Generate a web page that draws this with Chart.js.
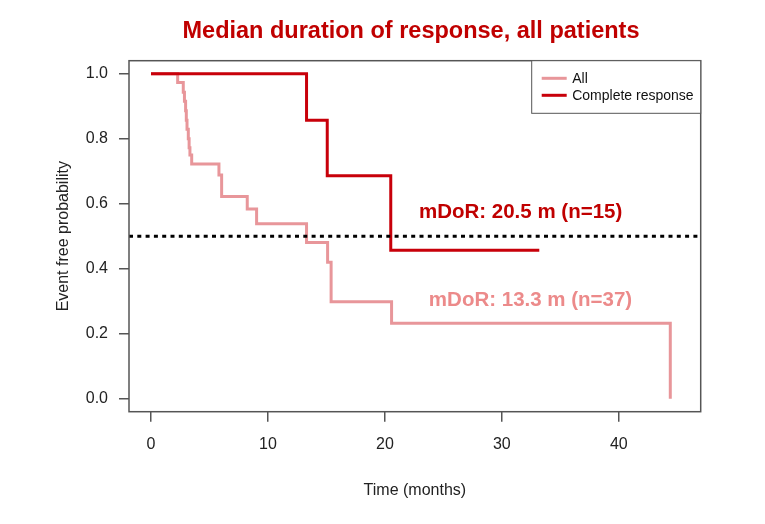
<!DOCTYPE html>
<html>
<head>
<meta charset="utf-8">
<script src="https://cdn.jsdelivr.net/npm/chart.js@4/dist/chart.umd.min.js"></script>
<style>
  body { margin: 0; background: #fff; }
  canvas { display: block; }
</style>
</head>
<body>
<canvas id="km" width="765" height="524"></canvas>
<script>
// Kaplan-Meier steps (time in months, event free probability)
const allTimes = [0, 2.28, 2.76, 2.86, 2.96, 3.02, 3.08, 3.19, 3.26, 3.33, 3.48, 5.81, 6.04, 8.23, 9.03, 13.3, 15.1, 15.4, 20.57, 44.4];
const allProb = [1, 0.973, 0.943, 0.915, 0.886, 0.857, 0.829, 0.8, 0.772, 0.75, 0.722, 0.688, 0.622, 0.584, 0.538, 0.481, 0.42, 0.298, 0.232, 0];
const crTimes = [0, 13.3, 15.07, 20.5, 33.2];
const crProb = [1, 0.857, 0.686, 0.457, 0.457];

const xTicks = [0, 10, 20, 30, 40];
const yTicks = [0, 0.2, 0.4, 0.6, 0.8, 1.0];
const xRange = [-1.88, 47.0];
const yRange = [-0.04, 1.04];
const medianLine = 0.5;

const seriesLabels = ['All', 'Complete response'];
const notes = [
  { text: 'mDoR: 20.5 m (n=15)', x: 31.6, y: 0.574, color: '#c00000' },
  { text: 'mDoR: 13.3 m (n=37)', x: 32.45, y: 0.304, color: '#ec8a8a' },
];
const titleText = 'Median duration of response, all patients';

const PINK = '#e8969a';
const RED = '#c8000a';
const FONT = "'Liberation Sans', Arial, Helvetica, sans-serif";

const toPoints = (xs, ys) => xs.map((x, i) => ({ x: x, y: ys[i] }));

const extras = {
  id: 'extras',
  afterDraw(chart) {
    const { ctx, chartArea: a, scales } = chart;
    ctx.save();
    // plot frame
    ctx.strokeStyle = '#555';
    ctx.lineWidth = 1.5;
    ctx.strokeRect(a.left, a.top, a.right - a.left, a.bottom - a.top);

    // title
    ctx.fillStyle = '#c00000';
    ctx.font = 'bold 23.5px ' + FONT;
    ctx.textAlign = 'center';
    ctx.textBaseline = 'middle';
    ctx.fillText(titleText, 411, 32);

    // median annotations
    ctx.font = 'bold 20.5px ' + FONT;
    notes.forEach(n => {
      ctx.fillStyle = n.color;
      ctx.fillText(n.text, scales.x.getPixelForValue(n.x), scales.y.getPixelForValue(n.y));
    });

    // legend box, top right inside the frame
    const bw = 169, bh = 52.6;
    const bx = a.right - bw, by = a.top;
    ctx.fillStyle = '#fff';
    ctx.fillRect(bx, by, bw, bh);
    ctx.strokeStyle = '#555';
    ctx.lineWidth = 1;
    ctx.strokeRect(bx, by, bw, bh);
    ctx.font = '14px ' + FONT;
    ctx.textAlign = 'left';
    chart.data.datasets.slice(0, 2).forEach((ds, i) => {
      const yy = by + 17.6 + i * 17;
      ctx.strokeStyle = ds.borderColor;
      ctx.lineWidth = 3;
      ctx.beginPath();
      ctx.moveTo(bx + 10, yy);
      ctx.lineTo(bx + 35, yy);
      ctx.stroke();
      ctx.fillStyle = '#111';
      ctx.fillText(ds.label, bx + 40.5, yy + 1);
    });
    ctx.restore();
  }
};

const ctx = document.getElementById('km').getContext('2d');
new Chart(ctx, {
  type: 'line',
  data: {
    datasets: [
      {
        label: seriesLabels[0],
        data: toPoints(allTimes, allProb),
        borderColor: PINK,
        borderWidth: 3,
        stepped: 'before',
        pointRadius: 0,
        fill: false,
        order: 2,
      },
      {
        label: seriesLabels[1],
        data: toPoints(crTimes, crProb),
        borderColor: RED,
        borderWidth: 3,
        stepped: 'before',
        pointRadius: 0,
        fill: false,
        order: 1,
      },
      {
        label: 'median',
        data: toPoints(xRange, [medianLine, medianLine]),
        borderColor: '#000',
        borderWidth: 3,
        borderDash: [4, 4.3],
        borderCapStyle: 'butt',
        pointRadius: 0,
        fill: false,
        order: 0,
      },
    ],
  },
  options: {
    responsive: false,
    animation: false,
    layout: { padding: { top: 60.7, right: 64.3, bottom: 0, left: 0 } },
    plugins: {
      legend: { display: false },
      tooltip: { enabled: false },
    },
    scales: {
      x: {
        type: 'linear',
        min: xRange[0],
        max: xRange[1],
        afterBuildTicks: s => { s.ticks = xTicks.map(v => ({ value: v })); },
        afterFit: s => { s.height = 112.3; },
        grid: { drawOnChartArea: false, drawTicks: true, tickLength: 10, color: '#555', lineWidth: 1.5 },
        border: { display: false },
        ticks: { color: '#222', font: { family: FONT, size: 16 }, padding: 13, maxRotation: 0 },
        title: { display: true, text: 'Time (months)', color: '#222', font: { family: FONT, size: 16 }, padding: { top: 0, bottom: 23.4 } },
      },
      y: {
        type: 'linear',
        min: yRange[0],
        max: yRange[1],
        afterBuildTicks: s => { s.ticks = yTicks.map(v => ({ value: v })); },
        afterFit: s => { s.width = 129; },
        grid: { drawOnChartArea: false, drawTicks: true, tickLength: 10, color: '#555', lineWidth: 1.5 },
        border: { display: false },
        ticks: { color: '#222', font: { family: FONT, size: 16 }, padding: 11, callback: v => v.toFixed(1) },
        title: { display: true, text: 'Event free probability', color: '#222', font: { family: FONT, size: 16 }, padding: { top: 54.4, bottom: 0 } },
      },
    },
  },
  plugins: [extras],
});
</script>
</body>
</html>
